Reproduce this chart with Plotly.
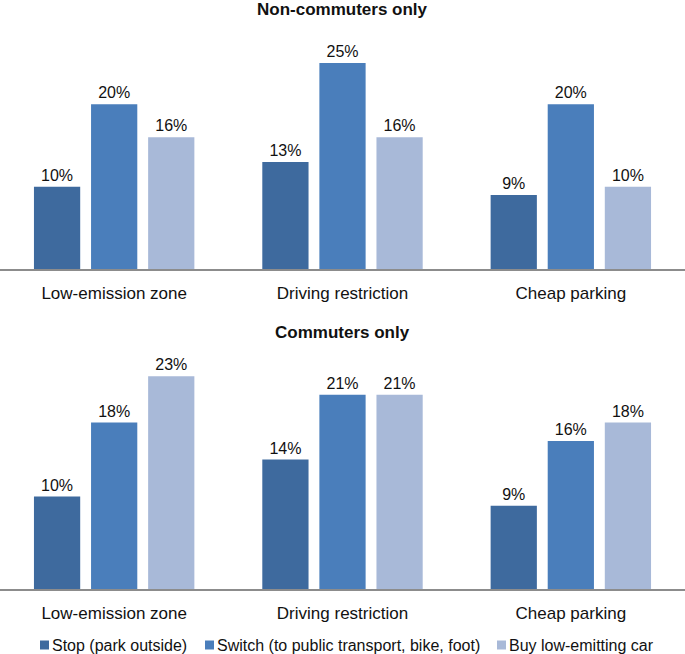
import plotly.graph_objects as go
from plotly.subplots import make_subplots

categories = ["Low-emission zone", "Driving restriction", "Cheap parking"]
series_names = ["Stop (park outside)", "Switch (to public transport, bike, foot)", "Buy low-emitting car"]
non_commuters = [[10, 13, 9], [20, 25, 20], [16, 16, 10]]
commuters = [[10, 14, 9], [18, 21, 16], [23, 21, 18]]
panel_titles = ["Non-commuters only", "Commuters only"]

colors = ["#3E6A9E", "#4A7EBB", "#A8B9D8"]
FONT = "Liberation Sans, Arial, sans-serif"
W, H = 685, 654

fig = make_subplots(rows=2, cols=1)

for row, data in enumerate([non_commuters, commuters], start=1):
    for i, name in enumerate(series_names):
        fig.add_trace(
            go.Bar(
                x=categories,
                y=data[i],
                name=name,
                marker=dict(color=colors[i], line=dict(width=0)),
                text=[f"{v}%" for v in data[i]],
                textposition="outside",
                textfont=dict(size=16, color="#111", family=FONT),
                cliponaxis=False,
                showlegend=False,
            ),
            row=row,
            col=1,
        )


def ydom(top_px, bottom_px):
    return [1 - bottom_px / H, 1 - top_px / H]


# hand-drawn legend: small squares hugging their labels
legend_x = [40, 205, 497]
legend_y = 645
shapes = []
annotations = []
for i, name in enumerate(series_names):
    x0 = legend_x[i]
    shapes.append(dict(
        type="rect", xref="paper", yref="paper",
        x0=x0 / W, x1=(x0 + 9) / W,
        y0=1 - (legend_y + 4.5) / H, y1=1 - (legend_y - 4.5) / H,
        fillcolor=colors[i], line=dict(width=0),
    ))
    annotations.append(dict(
        text=name, x=(x0 + 10) / W, y=1 - legend_y / H, xref="paper", yref="paper",
        xanchor="left", yanchor="middle", showarrow=False,
        font=dict(size=16, family=FONT, color="#111"),
    ))

for title, ypx in zip(panel_titles, [9, 333]):
    annotations.append(dict(
        text=f"<b>{title}</b>", x=0.5, y=1 - ypx / H, xref="paper", yref="paper",
        xanchor="center", yanchor="middle", showarrow=False,
        font=dict(size=17, family=FONT, color="#111"),
    ))

fig.update_layout(
    width=W,
    height=H,
    barmode="group",
    bargap=0.25,
    bargroupgap=0.19,
    paper_bgcolor="white",
    plot_bgcolor="white",
    font=dict(family=FONT, color="#111"),
    margin=dict(l=0, r=0, t=0, b=0),
    showlegend=False,
    xaxis=dict(domain=[0, 1]),
    xaxis2=dict(domain=[0, 1]),
    yaxis=dict(domain=ydom(45, 269), range=[0, 27.2]),
    yaxis2=dict(domain=ydom(355, 589), range=[0, 25.3]),
    shapes=shapes,
    annotations=annotations,
)

fig.update_xaxes(
    showline=True,
    linecolor="#8C8C8C",
    linewidth=1.5,
    ticks="",
    ticklabelstandoff=8,
    tickfont=dict(size=17, family=FONT, color="#111"),
    showgrid=False,
    automargin=False,
)
fig.update_yaxes(visible=False, showgrid=False, automargin=False)

fig.write_html(
    "out.html",
    config={"displayModeBar": False},
    post_script="document.body.style.margin='0';",
)
